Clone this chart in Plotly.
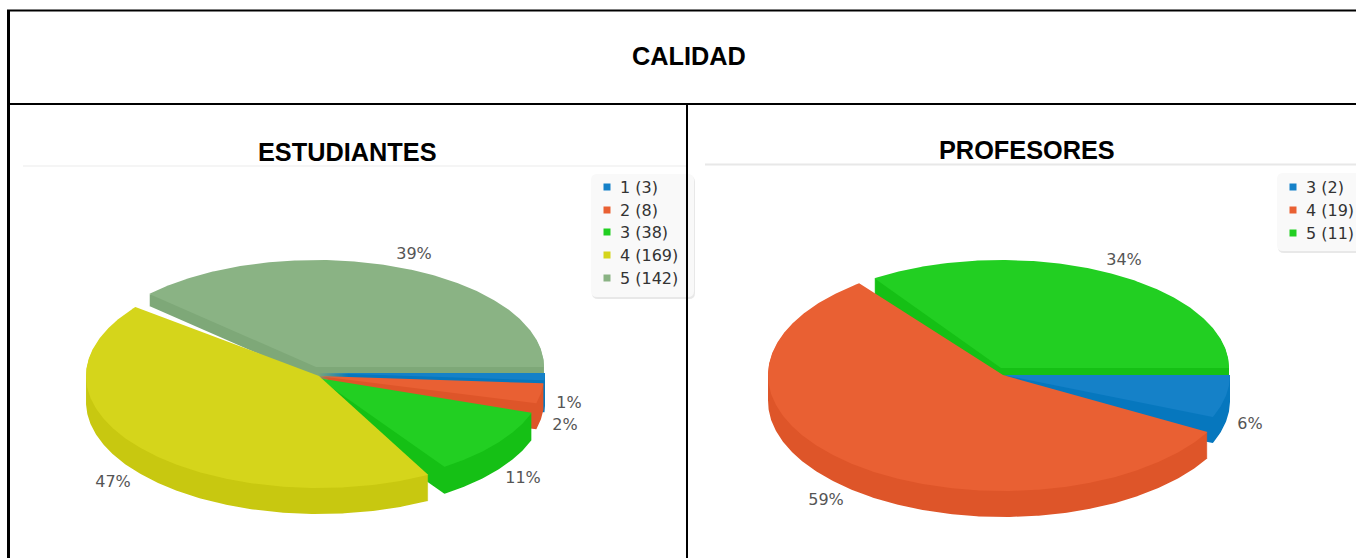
import numpy as np
import plotly.graph_objects as go

# ---------- data ----------
title = "CALIDAD"
est_title = "ESTUDIANTES"
est_categories = ["1", "2", "3", "4", "5"]
est_values = [3, 8, 38, 169, 142]
prof_title = "PROFESORES"
prof_categories = ["3", "4", "5"]
prof_values = [2, 19, 11]

# ---------- style ----------
BLUE, ORANGE, GREEN, YELLOW, SAGE = "#1581C8", "#E96033", "#22CF22", "#D5D51B", "#8AB384"
D_BLUE, D_ORANGE, D_GREEN, D_YELLOW, D_SAGE = "#0677BE", "#DE5529", "#15C015", "#C8C810", "#7EA878"

est_colors = [BLUE, ORANGE, GREEN, YELLOW, SAGE]
est_darks = [D_BLUE, D_ORANGE, D_GREEN, D_YELLOW, D_SAGE]
# per slice: centre x, centre y, radius x, radius y, depth, start trim, end trim (deg)
est_geom = [
    (318, 373, 227, 105, 32, 0, 1),
    (318, 376, 226, 105, 26, 1, 4),
    (318, 378, 226, 107, 27, 8, 7),
    (319, 376, 233, 112, 26, 13, 0),
    (316, 367, 228, 107, 12, 5, 0),
]
est_order = [4, 0, 1, 2, 3]
est_label_xy = [(569, 404), (565, 426), (523, 479), (113, 483), (414, 255)]

prof_colors = [BLUE, ORANGE, GREEN]
prof_darks = [D_BLUE, D_ORANGE, D_GREEN]
prof_geom = [
    (1003, 375, 227, 110, 26, 0, 0),
    (1003, 375, 235, 116, 26, 7, -4),
    (1001, 368, 228, 108, 17, 0, 0),
]
prof_order = [2, 0, 1]
prof_label_xy = [(1250, 425), (826, 501), (1124, 261)]


def sector(cx, cy, rx, ry, a0, a1):
    t = np.radians(np.linspace(a0, a1, max(int(abs(a1 - a0)) * 2, 6)))
    return np.r_[cx, cx + rx * np.cos(t), cx], np.r_[cy, cy + ry * np.sin(t), cy]


def add_pie(fig, values, categories, colors, darks, geom, order, label_xy):
    total = sum(values)
    edges = np.r_[0, np.cumsum(values)] / total * 360
    for i in order:
        cx, cy, rx, ry, depth, t0, t1 = geom[i]
        x, y = sector(cx, cy, rx, ry, edges[i] + t0, edges[i + 1] + t1)
        # side wall: the top face swept downward, one pixel at a time
        wx, wy = [], []
        for d in range(1, depth + 1):
            wx += list(x) + [None]
            wy += list(y + d) + [None]
        fig.add_trace(go.Scatter(x=wx, y=wy, mode="lines", fill="toself", fillcolor=darks[i],
                                 line=dict(width=0), hoverinfo="skip", showlegend=False))
        pct = round(values[i] / total * 100)
        fig.add_trace(go.Scatter(x=x, y=y, mode="lines", fill="toself", fillcolor=colors[i],
                                 line=dict(width=0), name=f"{categories[i]} ({values[i]})",
                                 text=f"{pct}%", hoverinfo="name+text", showlegend=False))
    fig.add_trace(go.Scatter(
        x=[p[0] for p in label_xy], y=[p[1] for p in label_xy], mode="text",
        text=[f"{round(v / total * 100)}%" for v in values],
        textposition="middle center",
        textfont=dict(family="DejaVu Sans", size=16, color="#555555"),
        hoverinfo="skip", showlegend=False))


def add_key(fig, categories, values, colors, x_swatch, x_text, rows):
    fig.add_trace(go.Scatter(x=[x_swatch] * len(rows), y=rows, mode="markers",
                             marker=dict(symbol="square", size=7, color=colors),
                             hoverinfo="skip", showlegend=False))
    fig.add_trace(go.Scatter(x=[x_text] * len(rows), y=[r + 1.5 for r in rows], mode="text",
                             text=[f"{c} ({v})" for c, v in zip(categories, values)],
                             textposition="middle right",
                             textfont=dict(family="DejaVu Sans", size=16, color="#333333"),
                             hoverinfo="skip", showlegend=False, cliponaxis=False))


def rounded(x0, y0, x1, y1, r=6):
    return (f"M{x0 + r},{y0} L{x1 - r},{y0} Q{x1},{y0} {x1},{y0 + r} L{x1},{y1 - r} "
            f"Q{x1},{y1} {x1 - r},{y1} L{x0 + r},{y1} Q{x0},{y1} {x0},{y1 - r} "
            f"L{x0},{y0 + r} Q{x0},{y0} {x0 + r},{y0} Z")


fig = go.Figure()
add_pie(fig, est_values, est_categories, est_colors, est_darks, est_geom, est_order, est_label_xy)
add_pie(fig, prof_values, prof_categories, prof_colors, prof_darks, prof_geom, prof_order, prof_label_xy)
add_key(fig, est_categories, est_values, est_colors, 607, 620, [187, 210, 232, 255, 278])
add_key(fig, prof_categories, prof_values, prof_colors, 1293, 1306, [187, 210, 233])

shapes = []
for (x0, y0, x1, y1) in [(591, 174, 694, 297), (1277, 173, 1380, 251)]:
    shapes.append(dict(type="path", path=rounded(x0 + 1, y0 + 2, x1 + 1, y1 + 2), fillcolor="#E8E8E8",
                       line=dict(width=0), layer="below"))
    shapes.append(dict(type="path", path=rounded(x0, y0, x1, y1), fillcolor="#F9F9F9",
                       line=dict(width=0), layer="below"))
# faint rules under the panel titles
shapes.append(dict(type="line", x0=23, x1=687, y0=166, y1=166, line=dict(color="#EBEBEB", width=1), layer="below"))
shapes.append(dict(type="line", x0=705, x1=1356, y0=164.5, y1=164.5, line=dict(color="#E8E8E8", width=2), layer="below"))
# table rules
for (x0, y0, x1, y1, w) in [
    (8.5, 10, 8.5, 558, 3), (7, 10.5, 1356, 10.5, 2),
    (7, 104, 1356, 104, 2), (687, 104, 687, 558, 2),
]:
    shapes.append(dict(type="line", x0=x0, y0=y0, x1=x1, y1=y1, line=dict(color="#000000", width=w), layer="above"))

bold = dict(family="Liberation Sans", size=25.3, color="#000000")
annotations = [
    dict(x=689, y=55.5, text=f"<b>{title}</b>", font=bold),
    dict(x=347, y=151.5, text=f"<b>{est_title}</b>", font=bold),
    dict(x=1027, y=149.5, text=f"<b>{prof_title}</b>", font=bold),
]
for a in annotations:
    a.update(xref="x", yref="y", showarrow=False, xanchor="center", yanchor="middle")

hidden = dict(visible=False, fixedrange=True)
fig.update_layout(
    width=1356, height=558, margin=dict(l=0, r=0, t=0, b=0),
    paper_bgcolor="#FFFFFF", plot_bgcolor="#FFFFFF",
    xaxis=dict(range=[0, 1356], **hidden),
    yaxis=dict(range=[558, 0], **hidden),
    shapes=shapes, annotations=annotations, showlegend=False,
)
fig.write_html("out.html", config=dict(displayModeBar=False),
               post_script="document.body.style.margin='0';document.body.style.overflow='hidden';")
